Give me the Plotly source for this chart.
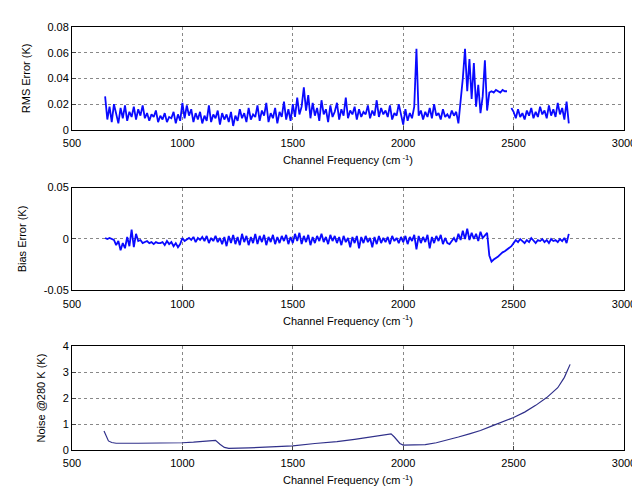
import plotly.graph_objects as go
from plotly.subplots import make_subplots

# Channel frequency grid (cm^-1) for RMS / bias panels
freq = [650, 660, 670, 680, 690,
        700, 710, 720, 730, 740, 750, 760, 770, 780, 790,
        800, 810, 820, 830, 840, 850, 860, 870, 880, 890,
        900, 910, 920, 930, 940, 950, 960, 970, 980, 990,
        1000, 1010, 1020, 1030, 1040, 1050, 1060, 1070, 1080, 1090,
        1100, 1110, 1120, 1130, 1140, 1150, 1160, 1170, 1180, 1190,
        1200, 1210, 1220, 1230, 1240, 1250, 1260, 1270, 1280, 1290,
        1300, 1310, 1320, 1330, 1340, 1350, 1360, 1370, 1380, 1390,
        1400, 1410, 1420, 1430, 1440, 1450, 1460, 1470, 1480, 1490,
        1500, 1510, 1520, 1530, 1540, 1550, 1560, 1570, 1580, 1590,
        1600, 1610, 1620, 1630, 1640, 1650, 1660, 1670, 1680, 1690,
        1700, 1710, 1720, 1730, 1740, 1750, 1760, 1770, 1780, 1790,
        1800, 1810, 1820, 1830, 1840, 1850, 1860, 1870, 1880, 1890,
        1900, 1910, 1920, 1930, 1940, 1950, 1960, 1970, 1980, 1990,
        2000, 2010, 2020, 2030, 2040, 2050, 2060, 2070, 2080, 2090,
        2100, 2110, 2120, 2130, 2140, 2150, 2160, 2170, 2180, 2190,
        2200, 2210, 2220, 2230, 2240, 2250, 2260, 2270, 2280, 2290,
        2300, 2310, 2320, 2330, 2340, 2350, 2360, 2370, 2380, 2390,
        2400, 2410, 2420, 2430, 2440, 2450, 2460, 2470, 2480, 2490,
        2500, 2510, 2520, 2530, 2540, 2550, 2560, 2570, 2580, 2590,
        2600, 2610, 2620, 2630, 2640, 2650, 2660, 2670, 2680, 2690,
        2700, 2710, 2720, 2730, 2740, 2750]

rms_error = [0.026, 0.008, 0.018, 0.006, 0.020,
             0.012, 0.005, 0.017, 0.009, 0.019, 0.007, 0.014, 0.010, 0.018, 0.008,
             0.016, 0.011, 0.019, 0.009, 0.013, 0.007, 0.012, 0.010, 0.015, 0.006,
             0.011, 0.008, 0.013, 0.006, 0.010, 0.009, 0.014, 0.005, 0.012, 0.007,
             0.021, 0.009, 0.019, 0.011, 0.016, 0.006, 0.013, 0.008, 0.014, 0.005,
             0.011, 0.007, 0.019, 0.006, 0.012, 0.009, 0.015, 0.004, 0.013, 0.008,
             0.012, 0.006, 0.014, 0.003, 0.011, 0.007, 0.016, 0.009, 0.013, 0.006,
             0.017, 0.008, 0.012, 0.010, 0.019, 0.007, 0.015, 0.011, 0.021, 0.006,
             0.013, 0.009, 0.017, 0.005, 0.014, 0.010, 0.022, 0.008, 0.016, 0.007,
             0.020, 0.010, 0.025, 0.012, 0.018, 0.033, 0.015, 0.027, 0.009, 0.021,
             0.011, 0.017, 0.007, 0.023, 0.012, 0.016, 0.006, 0.019, 0.010, 0.014,
             0.021, 0.008, 0.016, 0.011, 0.025, 0.009, 0.015, 0.012, 0.018, 0.008,
             0.016, 0.010, 0.014, 0.012, 0.019, 0.009, 0.015, 0.011, 0.023, 0.010,
             0.017, 0.012, 0.015, 0.010, 0.019, 0.008, 0.013, 0.011, 0.020, 0.012,
             0.004, 0.016, 0.007, 0.013, 0.009, 0.018, 0.063, 0.011, 0.015, 0.008,
             0.014, 0.010, 0.017, 0.009, 0.020, 0.011, 0.013, 0.008, 0.016, 0.010,
             0.012, 0.009, 0.015, 0.011, 0.014, 0.005, 0.022, 0.040, 0.063, 0.030,
             0.055, 0.024, 0.052, 0.018, 0.035, 0.013, 0.026, 0.054, 0.015, 0.029,
             0.030, 0.029, 0.031, 0.030, 0.029, 0.031, 0.030, 0.030, None, 0.017,
             0.014, 0.009, 0.016, 0.010, 0.013, 0.008, 0.015, 0.011, 0.017, 0.009,
             0.014, 0.010, 0.018, 0.012, 0.015, 0.009, 0.019, 0.011, 0.016, 0.010,
             0.021, 0.012, 0.017, 0.008, 0.022, 0.005]

bias_error = [0.001, 0.000, 0.001, 0.000, -0.001,
              -0.006, -0.002, -0.011, -0.004, -0.009, 0.002, -0.007, 0.009, -0.008, 0.005,
              -0.002, -0.001, -0.004, -0.003, -0.002, -0.004, -0.003, -0.005, -0.003, -0.004,
              -0.004, -0.003, -0.006, -0.002, -0.005, -0.003, -0.007, -0.004, -0.008, -0.005,
              0.001, -0.002, 0.000, 0.001, -0.001, 0.002, -0.003, 0.001, -0.001, 0.002,
              -0.002, 0.003, -0.004, 0.001, -0.002, 0.003, -0.003, 0.001, -0.005, 0.002,
              -0.007, 0.003, -0.004, 0.004, -0.005, 0.002, -0.006, 0.005, -0.003, 0.003,
              -0.006, 0.002, -0.004, 0.005, -0.005, 0.003, -0.003, 0.004, -0.006, 0.002,
              -0.003, 0.004, -0.005, 0.002, -0.004, 0.003, -0.002, 0.004, -0.005, 0.002,
              -0.004, 0.005, -0.002, 0.006, -0.005, 0.003, -0.003, 0.004, -0.006, 0.002,
              -0.004, 0.003, -0.002, 0.005, -0.003, 0.002, -0.005, 0.004, -0.002, 0.003,
              -0.004, 0.002, -0.006, 0.003, -0.003, 0.001, -0.008, 0.002, -0.004, 0.003,
              -0.009, 0.002, -0.004, 0.003, -0.003, 0.001, -0.008, 0.002, -0.005, 0.003,
              -0.004, 0.001, -0.003, 0.002, -0.005, 0.003, -0.002, 0.001, -0.004, 0.002,
              -0.003, 0.003, -0.005, 0.002, -0.002, 0.004, -0.010, 0.003, -0.004, 0.002,
              -0.003, 0.004, -0.009, 0.002, -0.004, 0.003, -0.002, 0.004, -0.005, 0.001,
              -0.004, -0.005, -0.002, 0.001, -0.003, 0.005, -0.001, 0.008, 0.000, 0.010,
              -0.001, 0.006, 0.000, 0.005, -0.002, 0.007, 0.001, 0.004, 0.006, -0.016,
              -0.022, -0.020, -0.018, -0.017, -0.015, -0.013, -0.012, -0.010, -0.008, -0.007,
              -0.004, -0.001, -0.003, 0.000, -0.002, -0.004, -0.001, -0.003, 0.001, -0.002,
              -0.004, -0.001, -0.002, 0.000, -0.003, -0.001, -0.004, 0.000, -0.002, -0.001,
              -0.003, 0.000, -0.002, 0.001, -0.004, 0.005]

noise_freq = [645, 655, 665, 680, 700, 800, 900, 1000, 1050, 1100, 1140, 1150,
              1170, 1190, 1210, 1250, 1300, 1400, 1500, 1600, 1700, 1780, 1850,
              1900, 1935, 1945, 1960, 1985, 2000, 2050, 2100, 2150, 2200, 2250,
              2300, 2350, 2400, 2450, 2500, 2550, 2600, 2650, 2700, 2730, 2756]
noise_280K = [0.73, 0.50, 0.35, 0.29, 0.26, 0.26, 0.26, 0.28, 0.30, 0.33, 0.38, 0.37,
              0.22, 0.10, 0.06, 0.06, 0.08, 0.12, 0.16, 0.25, 0.32, 0.41, 0.50,
              0.57, 0.63, 0.62, 0.50, 0.25, 0.19, 0.19, 0.21, 0.28, 0.38, 0.50,
              0.62, 0.75, 0.92, 1.08, 1.25, 1.46, 1.72, 2.02, 2.40, 2.80, 3.30]

x_ticks = [500, 1000, 1500, 2000, 2500, 3000]
rms_ticks = [0, 0.02, 0.04, 0.06, 0.08]
rms_ticktext = ["0", "0.02", "0.04", "0.06", "0.08"]
bias_ticks = [-0.05, 0, 0.05]
bias_ticktext = ["-0.05", "0", "0.05"]
noise_ticks = [0, 1, 2, 3, 4]

fig = make_subplots(rows=3, cols=1)

line_blue = dict(color="#0a0aff", width=1.8)
fig.add_trace(go.Scatter(x=freq, y=rms_error, mode="lines", line=line_blue,
                         connectgaps=False, showlegend=False), row=1, col=1)
fig.add_trace(go.Scatter(x=freq, y=bias_error, mode="lines", line=line_blue,
                         showlegend=False), row=2, col=1)
fig.add_trace(go.Scatter(x=noise_freq, y=noise_280K, mode="lines",
                         line=dict(color="#30308a", width=1.2), showlegend=False),
              row=3, col=1)

font = dict(family="Liberation Sans, Arial, sans-serif", size=11, color="black")
xtitle = "Channel Frequency (cm<sup> -1</sup>)"

common_x = dict(range=[500, 3000], tickvals=x_ticks, ticks="inside", ticklen=4,
                showline=True, linecolor="black", linewidth=1, mirror=True,
                showgrid=True, gridcolor="#888", griddash="dot", gridwidth=1,
                zeroline=False, tickfont=font, ticklabelstandoff=3,
                title=dict(text=xtitle, font=font, standoff=8))
common_y = dict(ticks="inside", ticklen=4, showline=True, linecolor="black",
                linewidth=1, mirror=True, showgrid=True, gridcolor="#888",
                griddash="dot", gridwidth=1, zeroline=False, tickfont=font)

H = 489 - 19 - 38
fig.update_layout(
    width=640, height=489,
    margin=dict(l=64, r=13, t=19, b=38),
    paper_bgcolor="white", plot_bgcolor="white",
    font=font,
    xaxis=dict(**common_x, domain=[0, 1]),
    xaxis2=dict(**common_x, domain=[0, 1]),
    xaxis3=dict(**common_x, domain=[0, 1]),
    yaxis=dict(**common_y, range=[0, 0.08], tickvals=rms_ticks, ticktext=rms_ticktext,
               domain=[1 - 105 / H, 1],
               title=dict(text="RMS Error (K)", font=font, standoff=14)),
    yaxis2=dict(**common_y, range=[-0.05, 0.05], tickvals=bias_ticks, ticktext=bias_ticktext,
                domain=[(451 - 288) / H, (451 - 183) / H],
                title=dict(text="Bias Error (K)", font=font, standoff=14)),
    yaxis3=dict(**common_y, range=[0, 4], tickvals=noise_ticks,
                domain=[0, 106 / H],
                title=dict(text="Noise @280 K (K)", font=font, standoff=14)),
)

fig.write_html("out.html")
